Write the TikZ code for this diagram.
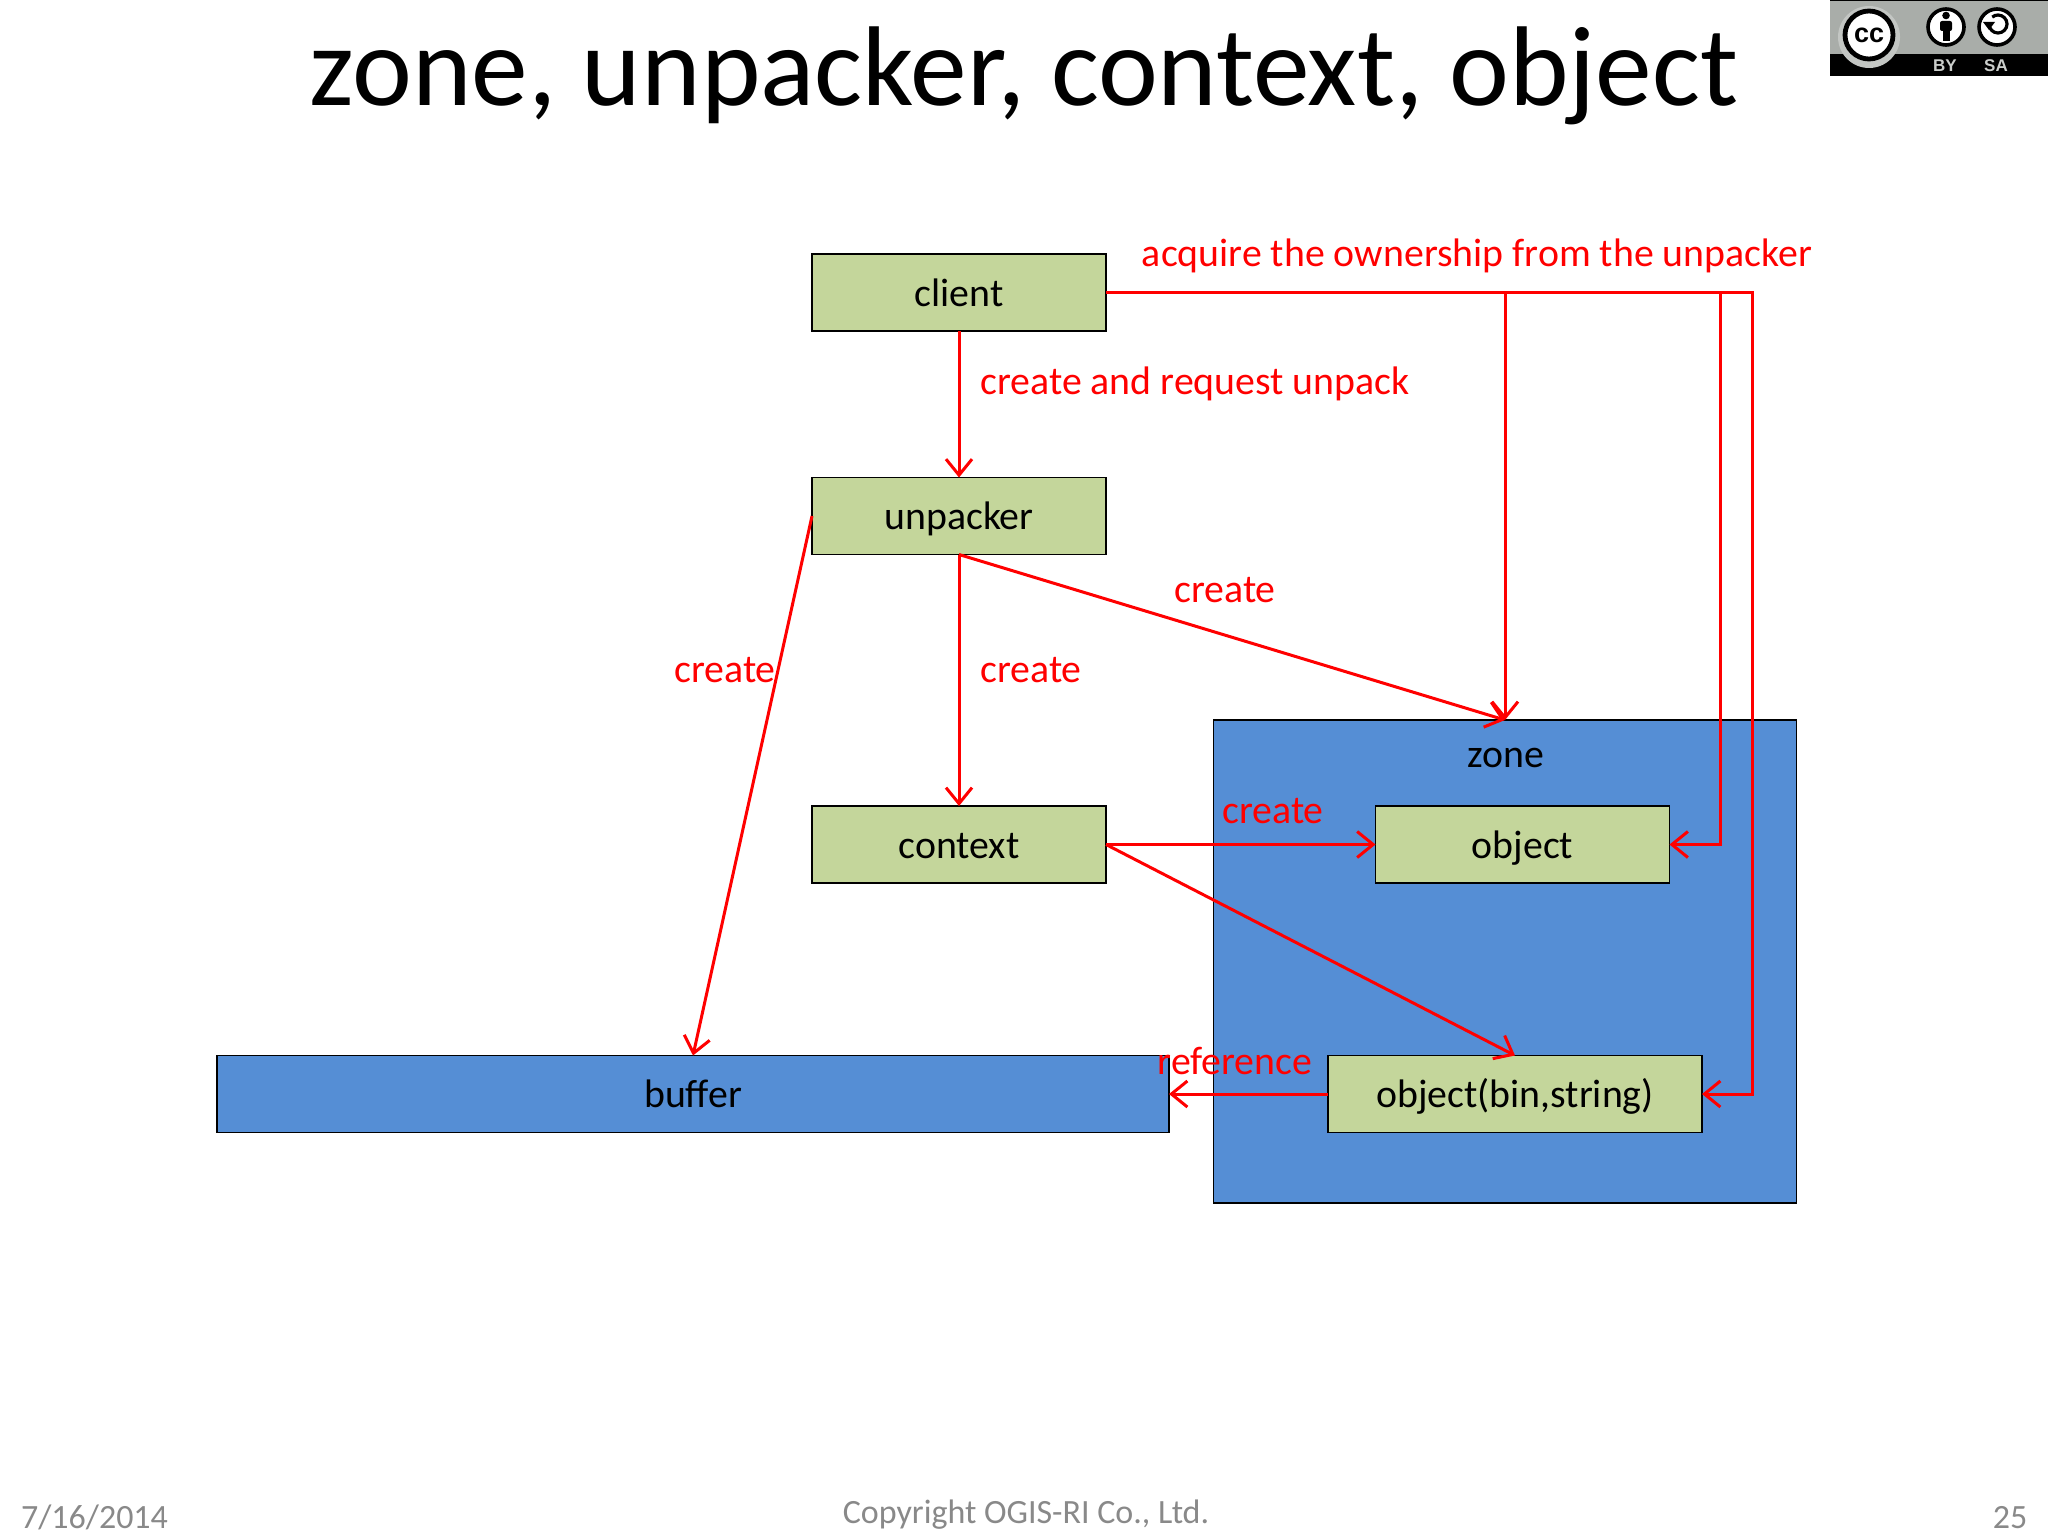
\documentclass[tikz,border=0pt]{standalone}
\usepackage{fontspec}
\setmainfont{Carlito}
\newfontfamily\badgefont{Liberation Sans}
\usetikzlibrary{arrows.meta, positioning}
\definecolor{boxgreen}{HTML}{C4D69B}
\definecolor{boxblue}{HTML}{558ED5}
\definecolor{footgray}{HTML}{898989}
\definecolor{badgegray}{HTML}{A9ADA9}

\begin{document}
\begin{tikzpicture}[
    x=0.5pt, y=-0.5pt,
    box/.style={draw=black, line width=0.8pt, fill=boxgreen, inner sep=0pt, outer sep=0pt, minimum height=38.5pt, text height=15.5pt, text depth=2pt, font=\fontsize{19.9}{22}\selectfont},
    bluebox/.style={box, fill=boxblue},
    link/.style={draw=red, line width=1.5pt, -{Straight Barb[length=8pt, width=13pt, line width=1.5pt]}},
    linklabel/.style={text=red, anchor=base, inner sep=0pt, font=\fontsize{19.9}{22}\selectfont},
    footer/.style={text=footgray, anchor=base, inner sep=0pt, font=\fontsize{17}{20}\selectfont}
]
\useasboundingbox (0,0) rectangle (2048,1536);

% Title
\node[anchor=base, inner sep=0pt, font=\fontsize{56.7}{64}\selectfont] (title) at (1024,105) {zone, unpacker, context, object};

% Zone
\node[bluebox, minimum width=291.5pt, minimum height=241.5pt] (zone) at (1505,961.5) {};
\node[anchor=base, inner sep=0pt, font=\fontsize{19.9}{22}\selectfont] (zonelabel) at (1505.5,767.5) {zone};

% Boxes
\node[box, minimum width=147pt] (client) at (959,292.5) {client};
\node[box, minimum width=147pt] (unpacker) at (959,516) {unpacker};
\node[box, minimum width=147pt] (context) at (959,844.5) {context};
\node[box, minimum width=147pt] (object) at (1522.5,844.5) {object};
\node[box, minimum width=187pt] (objbin) at (1515,1094) {object(bin,string)};
\node[bluebox, minimum width=476pt] (buffer) at (693,1094) {buffer};

% Bends of the two long lines
\coordinate (bendobject) at (1720,844.5);
\coordinate (bendobjbin) at (1752,1094);

% Links
\draw[link] (client.south) -- (unpacker.north);
\draw[link] (unpacker.south) -- (context.north);
\draw[link] (unpacker.south) -- (zone.north);
\draw[link] (unpacker.west) -- (buffer.north);
\draw[link] (context.east) -- (object.west);
\draw[link] (context.east) -- (objbin.north);
\draw[link] (objbin.west) -- (buffer.east);
\draw[link] (client.east) -| (zone.north);
\draw[link] (client.east) -| (bendobject) -- (object.east);
\draw[link] (client.east) -| (bendobjbin) -- (objbin.east);

% Link labels
\node[linklabel] (acquire) at (1477,266.5) {acquire the ownership from the unpacker};
\node[linklabel] (request) at (1195,394.5) {create and request unpack};
\node[linklabel] (createdown) at (1031,682) {create};
\node[linklabel] (createbuffer) at (725,682) {create};
\node[linklabel] (createzone) at (1225,602.5) {create};
\node[linklabel] (createobject) at (1273,823.5) {create};
\node[linklabel] (reference) at (1235,1074) {reference};

% Footer
\node[footer] (date) at (94.5,1528) {7/16/2014};
\node[footer] (copyright) at (1026,1523.5) {Copyright OGIS-RI Co., Ltd.};
\node[footer] (pagenum) at (2010,1528) {25};

% Licence badge
\fill[badgegray] (1830,0) rectangle (2048,54);
\fill[black] (1830,54) rectangle (2048,76);
\draw[black, line width=0.4pt] (1830,0) -- (2048,0);
\node[circle, fill=badgegray!70!white, minimum size=31pt, inner sep=0pt] (ccrim) at (1869,37) {};
\node[circle, draw=black, line width=2.4pt, fill=white, minimum size=24pt, inner sep=0pt, font=\badgefont\bfseries\fontsize{13.5}{12}\selectfont] (cc) at (1869,35) {cc};
\node[circle, draw=black, line width=1.8pt, fill=white, minimum size=18pt, inner sep=0pt] (by) at (1946,27) {};
\node[circle, draw=black, line width=1.8pt, fill=white, minimum size=18pt, inner sep=0pt] (sa) at (1997,27) {};
\fill[black] (1946,15.5) circle (3.8);
\fill[black, rounded corners=1pt] (1940,21) rectangle (1952,31);
\fill[black] (1942.5,28) rectangle (1949.5,41);
\draw[black, line width=1.6pt] (1989,24) arc (180:-130:9);
\fill[black] (1983,22) -- (1995,22) -- (1989,30) -- cycle;
\node[text=badgegray!60!white, inner sep=0pt, font=\badgefont\bfseries\fontsize{8.5}{9}\selectfont] (bytext) at (1945,66) {BY};
\node[text=badgegray!60!white, inner sep=0pt, font=\badgefont\bfseries\fontsize{8.5}{9}\selectfont] (satext) at (1996,66) {SA};
\end{tikzpicture}
\end{document}
